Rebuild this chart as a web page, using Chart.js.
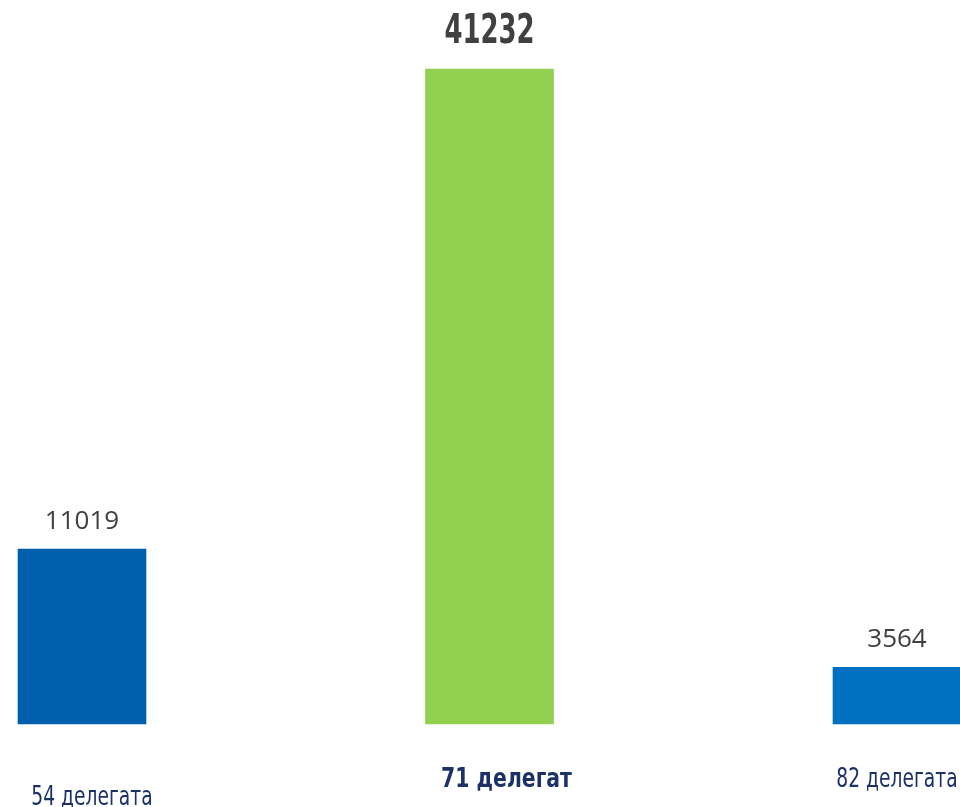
<!DOCTYPE html>
<html>
<head>
<meta charset="utf-8">
<script src="https://cdn.jsdelivr.net/npm/chart.js@4"></script>
<style>
  html, body { margin: 0; padding: 0; background: #fff; }
</style>
</head>
<body>
<canvas id="myChart" width="960" height="807"></canvas>
<script>
// podaci
const categories = ["54 делегата", "71 делегат", "82 делегата"];
const values = [11019, 41232, 3564];
const highlight = [false, true, false];

const barColors = ["#005FAD", "#92D050", "#0070C0"];
const narrow = "'DejaVu Sans Condensed', 'DejaVu Sans', sans-serif";

// tekst suzen po sirini (font je uzi u originalu)
function drawNarrow(c, text, x, y, sx) {
  c.save();
  c.translate(x, y);
  c.scale(sx, 1);
  c.fillText(text, 0, 0);
  c.restore();
}

// natpisi iznad stubaca i ispod njih
const labelsPlugin = {
  id: "labelsPlugin",
  afterDatasetsDraw(chart) {
    const ctx = chart.ctx;
    const meta = chart.getDatasetMeta(0);
    ctx.save();
    ctx.textAlign = "center";
    ctx.textBaseline = "alphabetic";
    meta.data.forEach(function (bar, i) {
      // vrijednost
      ctx.fillStyle = "#404040";
      if (highlight[i]) {
        ctx.font = "bold 40px " + narrow;
        drawNarrow(ctx, String(values[i]), bar.x, bar.y - 26, 0.72);
      } else {
        ctx.font = "26px 'Open Sans', sans-serif";
        ctx.fillText(values[i], bar.x, bar.y - 20);
      }
      // kategorija
      let dx = 0, yy = 787;
      if (i === 0) { dx = 10; yy = 805; }
      if (i === 1) { dx = 17; }
      ctx.fillStyle = "#1B3168";
      ctx.font = (highlight[i] ? "bold " : "") + "27px " + narrow;
      drawNarrow(ctx, categories[i], bar.x + dx, yy, highlight[i] ? 0.84 : 0.77);
    });
    ctx.restore();
  }
};

const ctx = document.getElementById("myChart");
new Chart(ctx, {
  type: "bar",
  data: {
    labels: categories,
    datasets: [{
      data: values,
      backgroundColor: barColors,
      borderWidth: 0,
      barThickness: 128,
      clip: false
    }]
  },
  options: {
    responsive: false,
    animation: false,
    layout: { padding: { left: 82, right: 63, top: 69, bottom: 83 } },
    scales: {
      x: { display: false, offset: false },
      y: { display: false, min: 0, max: Math.max(...values) }
    },
    plugins: {
      legend: { display: false },
      tooltip: { enabled: false }
    }
  },
  plugins: [labelsPlugin]
});
</script>
</body>
</html>
